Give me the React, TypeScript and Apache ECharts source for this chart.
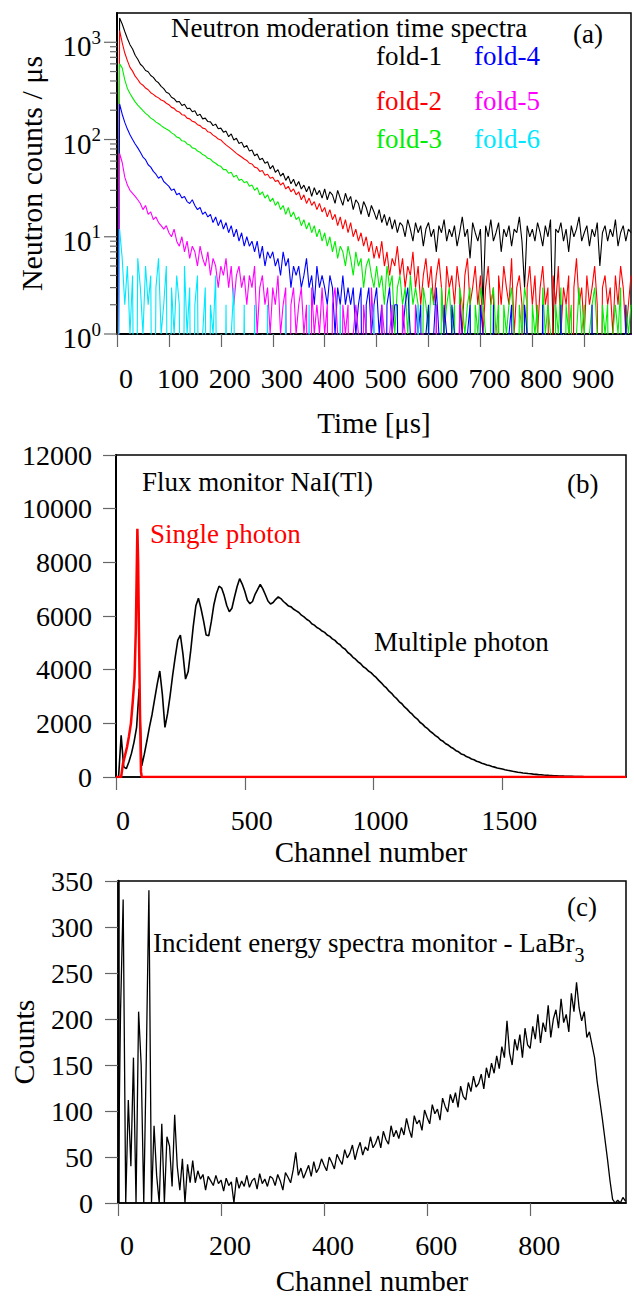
import React, { useEffect, useRef } from 'react';
import * as echarts from 'echarts';

// ---------------- Panel (a): neutron moderation time spectra ----------------
const TIME_STEP_US = 5; // sample spacing of the fold arrays (μs)
const FOLD_NAMES = ['fold-1', 'fold-2', 'fold-3', 'fold-4', 'fold-5', 'fold-6'];
const FOLD_COLORS = ['#000000', '#ff0000', '#00ee00', '#0000ff', '#ff00ff', '#00e8ff'];

const FOLD1 = [
  0, 1780, 1540, 1290, 1095, 945, 852, 736, 668, 594,
  561, 512, 497, 455, 436, 401, 383, 352, 334, 306,
  297, 272, 263, 244, 246, 224, 231, 208, 210, 193,
  198, 176, 182, 163, 166, 153, 152, 139, 144, 129,
  131, 119, 122, 107, 114, 99, 103, 91, 94, 83,
  87, 76, 78, 68, 71, 62, 64, 57, 59, 50,
  54, 46, 49, 42, 45, 38, 42, 35, 39, 33,
  37, 31, 34, 29, 33, 26, 32, 27, 30, 25,
  31, 24, 29, 27, 22, 30, 25, 21, 28, 23,
  26, 19, 24, 22, 17, 23, 20, 16, 21, 18,
  15, 19, 14, 17, 13, 16, 12, 15, 11, 14,
  13, 10, 15, 12, 9, 14, 11, 13, 8, 12,
  14, 10, 12, 7, 13, 11, 15, 9, 12, 10,
  13, 8, 11, 16, 10, 12, 6, 14, 11, 9,
  12, 2, 13, 10, 15, 9, 11, 14, 7, 12,
  10, 13, 8, 12, 11, 16, 9, 3, 13, 10,
  12, 9, 14, 11, 8, 13, 10, 15, 1, 12,
  11, 14, 9, 12, 7, 13, 10, 12, 16, 9,
  11, 13, 8, 12, 10, 14, 5, 11, 13, 9,
  12, 10, 15, 8, 11, 13, 9, 12, 11,
];
const FOLD2 = [
  0, 1320, 990, 775, 648, 552, 505, 448, 414, 378,
  362, 338, 325, 303, 291, 277, 268, 255, 249, 236,
  228, 214, 209, 196, 192, 180, 178, 166, 163, 154,
  151, 142, 139, 131, 129, 120, 118, 111, 107, 101,
  99, 93, 88, 84, 80, 76, 72, 69, 66, 63,
  61, 57, 56, 52, 51, 47, 48, 43, 44, 40,
  41, 37, 38, 34, 36, 31, 33, 29, 31, 27,
  29, 24, 27, 22, 25, 21, 23, 19, 22, 18,
  20, 16, 19, 15, 17, 13, 16, 12, 15, 11,
  14, 10, 12, 9, 11, 8, 10, 7, 9, 6,
  8, 6, 9, 5, 7, 4, 6, 5, 8, 4,
  6, 3, 5, 4, 7, 3, 5, 2, 4, 6,
  3, 5, 2, 4, 6, 3, 1, 5, 3, 4,
  2, 5, 3, 1, 4, 6, 2, 3, 5, 2,
  4, 1, 3, 5, 2, 3, 0, 4, 2, 5,
  3, 2, 6, 1, 3, 4, 2, 0, 3, 5,
  2, 4, 1, 3, 5, 2, 3, 0, 4, 2,
  5, 1, 3, 2, 4, 0, 3, 6, 2, 3,
  1, 4, 2, 3, 5, 2, 0, 3, 4, 2,
  3, 1, 4, 2, 5, 3, 1, 2, 4,
];
const FOLD3 = [
  0, 600, 545, 410, 335, 297, 268, 244, 226, 212,
  198, 186, 177, 166, 160, 151, 146, 139, 133, 128,
  124, 117, 113, 106, 104, 97, 96, 90, 88, 82,
  81, 76, 74, 70, 68, 64, 63, 59, 57, 54,
  53, 49, 49, 45, 46, 41, 43, 38, 39, 36,
  37, 33, 34, 30, 32, 27, 29, 25, 27, 23,
  25, 21, 23, 19, 21, 17, 20, 16, 18, 15,
  16, 13, 15, 12, 14, 11, 13, 10, 12, 9,
  11, 8, 10, 7, 9, 6, 8, 7, 5, 8,
  6, 4, 7, 5, 6, 3, 5, 6, 4, 3,
  5, 3, 4, 2, 5, 3, 4, 1, 3, 4,
  2, 3, 1, 4, 2, 3, 2, 0, 3, 2,
  1, 3, 2, 2, 0, 3, 1, 2, 3, 1,
  2, 0, 3, 2, 1, 2, 3, 0, 2, 1,
  3, 2, 1, 0, 2, 3, 1, 2, 0, 2,
  1, 2, 3, 1, 0, 2, 1, 3, 2, 0,
  2, 1, 2, 0, 3, 1, 2, 1, 0, 2,
  1, 3, 0, 2, 1, 2, 0, 1, 3, 1,
  2, 0, 1, 2, 3, 1, 0, 2, 1, 2,
  0, 1, 2, 1, 3, 0, 2, 1, 2,
];
const FOLD4 = [
  0, 232, 182, 150, 128, 112, 100, 90, 82, 74,
  66, 62, 55, 52, 47, 44, 40, 42, 37, 35,
  33, 30, 31, 27, 28, 25, 26, 23, 22, 24,
  21, 19, 20, 17, 18, 16, 17, 14, 16, 13,
  15, 12, 14, 11, 13, 10, 12, 9, 11, 8,
  10, 8, 9, 7, 9, 6, 8, 5, 7, 6,
  7, 5, 6, 4, 7, 5, 6, 3, 5, 4,
  5, 3, 4, 6, 3, 4, 2, 5, 3, 4,
  3, 2, 4, 3, 1, 3, 2, 4, 2, 3,
  2, 3, 1, 2, 3, 0, 2, 3, 1, 2,
  3, 1, 2, 0, 2, 3, 1, 2, 2, 0,
  1, 2, 3, 1, 0, 2, 1, 2, 0, 1,
  2, 0, 1, 3, 1, 0, 2, 1, 0, 2,
  1, 0, 2, 1, 0, 1, 2, 0, 1, 0,
  2, 1, 0, 1, 0, 2, 0, 1, 0, 1,
  0, 1, 2, 0, 1, 0, 0, 2, 1, 0,
  1, 0, 1, 0, 2, 0, 1, 0, 0, 1,
  0, 2, 0, 1, 0, 1, 0, 0, 1, 0,
  1, 0, 0, 2, 0, 1, 0, 1, 0, 0,
  0, 1, 0, 0, 1, 0, 2, 0, 1,
];
const FOLD5 = [
  0, 72, 58, 41, 34, 30, 28, 26, 24, 22,
  19, 21, 17, 18, 15, 16, 14, 13, 12, 13,
  11, 10, 12, 9, 8, 10, 7, 9, 6, 8,
  7, 5, 8, 6, 5, 7, 4, 6, 5, 3,
  5, 4, 6, 3, 5, 2, 4, 5, 3, 4,
  2, 4, 3, 5, 1, 3, 4, 2, 3, 1,
  3, 2, 4, 1, 2, 3, 0, 2, 3, 1,
  2, 3, 1, 2, 0, 3, 1, 2, 1, 3,
  1, 2, 0, 2, 3, 1, 0, 2, 1, 2,
  0, 1, 2, 1, 0, 2, 1, 0, 3, 1,
  1, 0, 2, 1, 0, 1, 2, 0, 1, 0,
  2, 1, 0, 1, 0, 2, 0, 1, 1, 0,
  1, 0, 0, 2, 0, 1, 0, 1, 0, 0,
  1, 0, 2, 0, 0, 1, 0, 0, 1, 0,
  0, 1, 0, 0, 1, 0, 0, 1, 0, 0,
  0, 0, 1, 0, 0, 0, 1, 0, 0, 0,
  1, 0, 0, 0, 1, 0, 0, 0, 0, 1,
  0, 0, 1, 0, 0, 0, 0, 1, 0, 0,
  0, 1, 0, 0, 0, 0, 1, 0, 0, 0,
  0, 0, 0, 1, 0, 0, 0, 0, 1,
];
const FOLD6 = [
  0, 12, 6, 2, 5, 1, 4, 0, 6, 3,
  1, 5, 2, 4, 0, 3, 6, 1, 2, 5,
  0, 3, 1, 4, 2, 0, 5, 1, 3, 0,
  2, 4, 0, 1, 3, 0, 2, 1, 4, 0,
  1, 0, 2, 0, 1, 3, 0, 1, 0, 2,
  0, 1, 0, 2, 0, 0, 1, 0, 2, 0,
  1, 0, 0, 1, 0, 2, 0, 0, 1, 0,
  0, 1, 0, 0, 2, 0, 0, 1, 0, 0,
  1, 0, 0, 0, 1, 0, 2, 0, 0, 0,
  0, 0, 1, 0, 0, 0, 1, 0, 0, 2,
  0, 0, 0, 1, 0, 0, 0, 0, 1, 0,
  0, 1, 0, 0, 0, 0, 2, 0, 0, 0,
  1, 0, 0, 0, 0, 1, 0, 0, 0, 0,
  0, 0, 0, 1, 0, 0, 0, 0, 0, 1,
  0, 0, 0, 0, 1, 0, 0, 0, 0, 0,
  0, 1, 0, 0, 0, 0, 0, 1, 0, 0,
  0, 0, 0, 0, 0, 1, 0, 0, 0, 0,
  0, 0, 1, 0, 0, 0, 0, 0, 0, 0,
  0, 0, 0, 0, 1, 0, 0, 0, 0, 0,
  0, 0, 0, 0, 0, 0, 1, 0, 0,
];
const FOLDS = [FOLD1, FOLD2, FOLD3, FOLD4, FOLD5, FOLD6];
const TIME_TICKS = [0, 100, 200, 300, 400, 500, 600, 700, 800, 900];
const LOG_MAJOR_TICKS = [1, 10, 100, 1000];
const LOG_MINOR_TICKS = [2, 3, 4, 5, 6, 7, 8, 9, 20, 30, 40, 50, 60, 70, 80, 90, 200, 300, 400, 500, 600, 700, 800, 900];

// ---------------- Panel (b): flux monitor NaI(Tl) ----------------
const NAI_STEP = 10; // channels between samples of NAI_MULTIPLE
const NAI_MULTIPLE = [
  0, 0, 1550, 380, 310, 560, 880, 1300, 1850, 3300,
  420, 850, 1350, 1870, 2330, 2900, 3460, 3950, 3080, 1850,
  2350, 3020, 3800, 4480, 5100, 5290, 4580, 3650, 3920, 4700,
  5620, 6380, 6660, 6280, 5820, 5290, 5260, 5790, 6420, 6840,
  7110, 7040, 6760, 6390, 6160, 6290, 6710, 7090, 7390, 7190,
  6920, 6590, 6460, 6540, 6810, 6990, 7180, 7010, 6790, 6560,
  6450, 6500, 6620, 6710, 6650, 6540, 6460, 6370, 6340, 6250,
  6190, 6130, 6030, 5970, 5880, 5820, 5710, 5660, 5570, 5520,
  5440, 5390, 5290, 5240, 5150, 5090, 4990, 4930, 4820, 4760,
  4640, 4570, 4460, 4390, 4290, 4220, 4110, 4050, 3950, 3890,
  3790, 3710, 3600, 3510, 3400, 3320, 3200, 3120, 3000, 2920,
  2800, 2730, 2610, 2530, 2420, 2340, 2230, 2160, 2040, 1970,
  1870, 1800, 1700, 1630, 1540, 1480, 1380, 1330, 1240, 1190,
  1110, 1060, 980, 940, 860, 830, 760, 730, 670, 640,
  590, 555, 515, 485, 450, 425, 390, 368, 338, 318,
  296, 272, 250, 233, 212, 198, 180, 166, 152, 141,
  128, 119, 107, 99, 89, 83, 73, 68, 60, 55,
  49, 45, 39, 36, 32, 30, 25, 23, 20, 19,
  16, 15, 12, 11, 9, 9, 7, 6, 5, 5,
  4, 3, 3, 2, 2, 2, 1, 1, 1,
];
const NAI_SINGLE_CHANNELS = [0, 20, 27, 35, 43, 50, 58, 65, 72, 77, 80, 83, 86, 89, 93, 97, 100, 1980];
const NAI_SINGLE_COUNTS = [0, 0, 500, 800, 1130, 1500, 2000, 2800, 3700, 5500, 7400, 9250, 8000, 5500, 2500, 200, 0, 0];
const NAI_X_TICKS = [0, 500, 1000, 1500];

// ---------------- Panel (c): LaBr3 incident energy spectrum ----------------
const LABR_STEP = 5; // channels between samples
const LABR_COUNTS = [
  0, 210, 330, 0, 112, 40, 158, 0, 208, 150,
  0, 160, 340, 0, 84, 30, 0, 86, 0, 72,
  62, 18, 96, 40, 14, 48, 0, 42, 22, 46,
  22, 35, 26, 31, 14, 29, 24, 19, 30, 21,
  25, 13, 27, 19, 23, 0, 28, 16, 24, 18,
  30, 17, 24, 27, 15, 32, 21, 26, 18, 29,
  27, 19, 31, 24, 14, 33, 28, 22, 36, 55,
  30, 38, 27, 34, 41, 29, 45, 33, 38, 48,
  41, 35, 50, 44, 37, 53, 47, 42, 58, 49,
  54, 63, 47, 58, 66, 52, 61, 57, 72, 60,
  65, 73, 60, 78, 69, 64, 84, 72, 79, 70,
  82, 74, 92, 80, 71, 95, 86, 90, 79, 101,
  93, 86, 107, 97, 102, 90, 114, 105, 99, 118,
  109, 120, 104, 127, 116, 112, 131, 121, 138, 126,
  130, 140, 124, 147, 136, 152, 141, 160, 146, 170,
  158, 198, 163, 150, 178, 166, 183, 158, 190, 172,
  168, 192, 178, 205, 174, 196, 186, 215, 180, 200,
  210, 190, 222, 196, 205, 186, 228, 208, 240, 212,
  198, 208, 180, 186, 172, 158, 132, 112, 92, 70,
  48, 24, 4, 0, 3, 0, 6, 2,
];
const LABR_X_TICKS = [0, 200, 400, 600, 800];

const FONT = 'Liberation Serif, DejaVu Serif, serif';
const ZERO_ON_LOG = 1e-3; // zero counts drawn below the log axis floor (clipped)

function buildOption(): any {
  const tickStyle = { color: '#666', width: 1.2 };
  const plain = (v: number) => String(v);
  const labelBase = { color: '#000', fontFamily: FONT, fontSize: 28, formatter: plain };
  const nameStyle = { color: '#000', fontFamily: FONT, fontSize: 29 };

  const grid = [
    { left: 117, top: 13, width: 514, height: 321 },
    { left: 116, top: 455, width: 510, height: 322 },
    { left: 117, top: 881, width: 509, height: 322 },
  ].map((g) => ({ ...g, show: true, borderColor: '#000', borderWidth: 1.5, backgroundColor: 'transparent' }));

  const xAxis = [
    {
      gridIndex: 0, type: 'value', min: 0, max: 990,
      name: 'Time [μs]', nameLocation: 'middle', nameGap: 74, nameTextStyle: nameStyle,
      axisLine: { lineStyle: { color: '#000', width: 2 } },
      axisTick: { show: true, inside: false, length: 13, lineStyle: tickStyle, customValues: TIME_TICKS },
      axisLabel: { ...labelBase, customValues: TIME_TICKS, margin: 30, padding: [0, 0, 0, 18] },
      splitLine: { show: false },
    },
    {
      gridIndex: 1, type: 'value', min: 0, max: 1980,
      name: 'Channel number', nameLocation: 'middle', nameGap: 60, nameTextStyle: nameStyle,
      axisLine: { lineStyle: { color: '#000', width: 1.5 } },
      axisTick: { show: true, inside: false, length: 13, lineStyle: tickStyle, customValues: NAI_X_TICKS },
      axisLabel: { ...labelBase, customValues: NAI_X_TICKS, margin: 29, padding: [0, 0, 0, 14] },
      splitLine: { show: false },
    },
    {
      gridIndex: 2, type: 'value', min: 0, max: 986,
      name: 'Channel number', nameLocation: 'middle', nameGap: 63, nameTextStyle: nameStyle,
      axisLine: { lineStyle: { color: '#000', width: 1.5 } },
      axisTick: { show: true, inside: false, length: 13, lineStyle: tickStyle, customValues: LABR_X_TICKS },
      axisLabel: { ...labelBase, customValues: LABR_X_TICKS, margin: 28, padding: [0, 0, 0, 18] },
      splitLine: { show: false },
    },
  ];

  const yAxis = [
    {
      gridIndex: 0, type: 'log', logBase: 10, min: 1, max: 2000,
      name: 'Neutron counts / μs', nameLocation: 'middle', nameRotate: 90, nameGap: 71,
      nameTextStyle: { ...nameStyle, fontSize: 30 },
      axisLine: { lineStyle: { color: '#000', width: 2 } },
      axisTick: { show: false }, minorTick: { show: false }, splitLine: { show: false },
      axisLabel: {
        margin: 16,
        formatter: (v: number) => {
          const e = Math.log10(v);
          const r = Math.round(e);
          if (Math.abs(e - r) > 1e-6) return '';
          return `{b|10}{s|${r}}`;
        },
        rich: {
          b: { fontSize: 29, fontFamily: FONT, color: '#000', lineHeight: 29, padding: [8, 0, 0, 0] },
          s: { fontSize: 19, fontFamily: FONT, color: '#000', lineHeight: 19, verticalAlign: 'top' },
        },
      },
    },
    {
      gridIndex: 1, type: 'value', min: 0, max: 12000, interval: 2000,
      axisLine: { lineStyle: { color: '#000', width: 2 } },
      axisTick: { show: true, inside: false, length: 13, lineStyle: tickStyle },
      axisLabel: { ...labelBase, margin: 24 },
      splitLine: { show: false },
    },
    {
      gridIndex: 2, type: 'value', min: 0, max: 350, interval: 50,
      name: 'Counts', nameLocation: 'middle', nameRotate: 90, nameGap: 80,
      nameTextStyle: { ...nameStyle, fontSize: 30 },
      axisLine: { lineStyle: { color: '#000', width: 2.5 } },
      axisTick: { show: true, inside: false, length: 13, lineStyle: tickStyle },
      axisLabel: { ...labelBase, margin: 25 },
      splitLine: { show: false },
    },
  ];

  const foldSeries = FOLDS.map((arr, k) => ({
    type: 'line', name: FOLD_NAMES[k], xAxisIndex: 0, yAxisIndex: 0,
    data: arr.map((v, i) => [i * TIME_STEP_US, v > 0 ? v : ZERO_ON_LOG]),
    symbol: 'none', showSymbol: false, clip: true, silent: true,
    lineStyle: { color: FOLD_COLORS[k], width: 1.1 }, z: 2 + k,
  }));

  const logTickSeries = {
    type: 'custom', xAxisIndex: 0, yAxisIndex: 0, silent: true, clip: false, z: 10,
    data: [
      ...LOG_MAJOR_TICKS.map((v) => [0, v, 1]),
      ...LOG_MINOR_TICKS.map((v) => [0, v, 0]),
    ],
    renderItem: (_p: any, api: any) => {
      const pt = api.coord([0, api.value(1)]);
      const len = api.value(2) === 1 ? 13 : 7;
      return {
        type: 'line',
        shape: { x1: pt[0] - len, y1: pt[1], x2: pt[0], y2: pt[1] },
        style: { stroke: '#666', lineWidth: 1.2 },
      };
    },
  };

  const naiSeries = [
    {
      type: 'line', name: 'Multiple photon', xAxisIndex: 1, yAxisIndex: 1,
      data: NAI_MULTIPLE.map((v, i) => [i * NAI_STEP, v]),
      symbol: 'none', showSymbol: false, silent: true,
      lineStyle: { color: '#000', width: 1.6 }, z: 3,
    },
    {
      type: 'line', name: 'Single photon', xAxisIndex: 1, yAxisIndex: 1,
      data: NAI_SINGLE_CHANNELS.map((c, i) => [c, NAI_SINGLE_COUNTS[i]]),
      symbol: 'none', showSymbol: false, silent: true,
      lineStyle: { color: '#ff0000', width: 2.5 }, z: 4,
    },
  ];

  const labrSeries = {
    type: 'line', name: 'LaBr3', xAxisIndex: 2, yAxisIndex: 2,
    data: LABR_COUNTS.map((v, i) => [i * LABR_STEP, v]),
    symbol: 'none', showSymbol: false, silent: true,
    lineStyle: { color: '#000', width: 1.3 }, z: 3,
  };

  const txt = (x: number, y: number, text: string, fill = '#000', fontSize = 27) => ({
    type: 'text', x, y, silent: true,
    style: { text, fill, fontSize, fontFamily: FONT, align: 'left', verticalAlign: 'middle' },
  });

  const legendPos = [
    [376, 56], [376, 101], [376, 139], [474, 56], [474, 101], [474, 139],
  ];

  const graphic = [
    txt(171, 28, 'Neutron moderation time spectra'),
    txt(573, 34, '(a)'),
    ...FOLD_NAMES.map((n, k) => txt(legendPos[k][0], legendPos[k][1], n, FOLD_COLORS[k])),
    txt(142, 482, 'Flux monitor NaI(Tl)'),
    txt(567, 484, '(b)'),
    txt(150, 534, 'Single photon', '#ff0000'),
    txt(374, 642, 'Multiple photon'),
    txt(567, 907, '(c)'),
    {
      type: 'text', x: 153, y: 944, silent: true,
      style: {
        text: '{m|Incident energy spectra monitor - LaBr}{sub|3}',
        fill: '#000', fontFamily: FONT, fontSize: 27, align: 'left', verticalAlign: 'middle',
        rich: {
          m: { fontSize: 27, fontFamily: FONT, fill: '#000', lineHeight: 30, verticalAlign: 'top' },
          sub: { fontSize: 20, fontFamily: FONT, fill: '#000', lineHeight: 20, padding: [16, 0, 0, 0], verticalAlign: 'top' },
        },
      },
    },
  ];

  return {
    animation: false,
    backgroundColor: '#ffffff',
    textStyle: { fontFamily: FONT },
    grid,
    xAxis,
    yAxis,
    series: [...foldSeries, logTickSeries, ...naiSeries, labrSeries],
    graphic,
  };
}

export default function App() {
  const ref = useRef<HTMLDivElement>(null);
  useEffect(() => {
    if (!ref.current) return;
    const chart = echarts.init(ref.current, undefined, { renderer: 'svg' });
    chart.setOption(buildOption());
    return () => chart.dispose();
  }, []);
  return (
    <div
      ref={ref}
      style={{ position: 'absolute', left: 0, top: 0, width: 634, height: 1296, background: '#fff' }}
    />
  );
}
